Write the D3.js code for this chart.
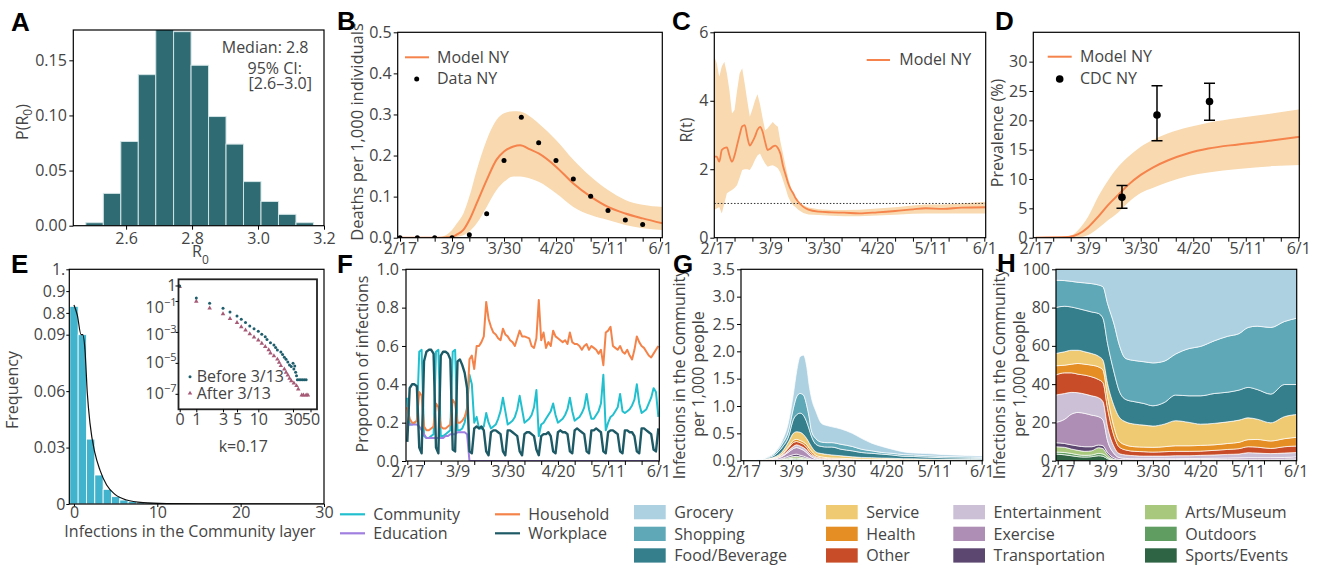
<!DOCTYPE html>
<html>
<head>
<meta charset="utf-8">
<script src="https://cdn.jsdelivr.net/npm/d3@7"></script>
<style>
  html, body { margin: 0; padding: 0; background: #fff; }
  svg { display: block; }
</style>
</head>
<body>
<svg id="fig" width="1321" height="571"></svg>
<script>
// ---------------- shared ----------------
const dateTickDays = [0, 21, 42, 63, 84, 105];
const dateTickLabels = ["2/17", "3/9", "3/30", "4/20", "5/11", "6/1"];

// ---------------- A: R0 posterior ----------------
const aBinEdges = [2.478, 2.531, 2.584, 2.637, 2.690, 2.744, 2.797, 2.850, 2.903, 2.956, 3.009, 3.062, 3.115, 3.168];
const aDensity = [0.0027, 0.0293, 0.0764, 0.137, 0.179, 0.176, 0.1455, 0.099, 0.074, 0.040, 0.022, 0.0103, 0.0027];
const aXTicks = [2.6, 2.8, 3.0, 3.2];
const aYTicks = [0, 0.05, 0.10, 0.15];
const aStats = ["Median: 2.8", "95% CI:", "[2.6\u20133.0]"];

// ---------------- B: deaths ----------------
const bDays  = [0, 10, 16, 19, 21, 23, 25.6, 28, 31, 35, 39, 42, 45.8, 48.5, 52.5, 56, 63, 70, 77, 84, 91, 98, 106];
const bModel = [0, 0, 0, 0.001, 0.002, 0.008, 0.019, 0.043, 0.084, 0.14, 0.19, 0.21, 0.222, 0.225, 0.215, 0.205, 0.173, 0.132, 0.1, 0.075, 0.059, 0.047, 0.035];
const bUpper = [0, 0, 0.002, 0.008, 0.019, 0.035, 0.059, 0.1, 0.165, 0.238, 0.287, 0.303, 0.308, 0.307, 0.295, 0.278, 0.238, 0.19, 0.149, 0.116, 0.092, 0.08, 0.075];
const bLower = [0, 0, 0, 0, 0, 0.002, 0.006, 0.015, 0.035, 0.075, 0.116, 0.136, 0.149, 0.149, 0.144, 0.136, 0.108, 0.075, 0.055, 0.043, 0.031, 0.023, 0.019];
const bDataDays = [0, 7, 14, 21, 28, 35, 42, 49, 56, 63, 70, 77, 84, 91, 98];
const bData = [0, 0, 0, 0, 0.007, 0.058, 0.188, 0.293, 0.231, 0.188, 0.143, 0.101, 0.066, 0.043, 0.032];
const bYTicks = [0, 0.1, 0.2, 0.3, 0.4, 0.5];

// ---------------- C: R(t) ----------------
const cDays  = [-1, 0, 1, 2, 3, 4, 5, 6, 7, 8, 9, 10, 11, 12, 13, 14, 15, 16, 17, 18, 19, 20, 21, 22, 23, 24, 25, 26, 27, 28, 29, 30, 31, 32, 34, 36, 40, 45, 50, 56, 63, 70, 77, 82, 89, 96, 106];
const cModel = [2.37, 2.37, 2.22, 2.56, 2.62, 2.64, 2.4, 2.22, 2.4, 2.7, 3.0, 3.25, 3.29, 2.95, 2.69, 2.8, 2.95, 3.15, 3.24, 3.1, 2.8, 2.56, 2.6, 2.66, 2.69, 2.62, 2.45, 2.1, 1.85, 1.6, 1.42, 1.3, 1.15, 1.05, 0.9, 0.82, 0.76, 0.74, 0.73, 0.71, 0.74, 0.78, 0.83, 0.86, 0.84, 0.88, 0.89];
const cUpper = [5.3, 5.1, 4.7, 5.0, 5.14, 4.8, 4.3, 3.63, 3.73, 4.3, 4.8, 4.95, 4.5, 4.0, 3.53, 3.75, 4.0, 4.19, 3.9, 3.5, 3.14, 3.2, 3.29, 3.38, 3.3, 3.24, 2.8, 2.46, 2.1, 1.75, 1.5, 1.3, 1.15, 1.05, 0.95, 0.88, 0.83, 0.81, 0.81, 0.82, 0.85, 0.89, 0.94, 0.97, 0.97, 1.0, 1.05];
const cLower = [0.81, 0.85, 0.9, 0.71, 1.0, 1.3, 1.35, 1.39, 1.45, 1.54, 1.75, 1.98, 2.0, 2.0, 1.98, 2.1, 2.27, 2.4, 2.46, 2.3, 2.17, 2.07, 2.1, 2.12, 2.08, 2.03, 1.9, 1.68, 1.45, 1.2, 1.05, 0.95, 0.89, 0.82, 0.72, 0.68, 0.66, 0.64, 0.63, 0.63, 0.65, 0.67, 0.7, 0.71, 0.71, 0.71, 0.71];
const cThreshold = 1;
const cYTicks = [0, 2, 4, 6];

// ---------------- D: prevalence ----------------
const dDays  = [0, 13, 17, 21, 25, 29, 33, 37, 42, 47, 53, 61, 69, 81, 95, 106];
const dModel = [0, 0.1, 0.6, 1.8, 3.6, 5.6, 7.3, 9.0, 10.7, 12.0, 13.2, 14.4, 15.2, 15.9, 16.6, 17.2];
const dUpper = [0, 0.2, 1.3, 3.6, 7.0, 9.8, 12.1, 13.8, 15.5, 16.7, 17.8, 18.8, 19.6, 20.4, 21.2, 21.9];
const dLower = [0, 0, 0.05, 0.45, 1.6, 3.0, 4.3, 6.0, 7.6, 8.5, 9.5, 10.5, 11.1, 11.7, 12.2, 12.4];
const cdcDays = [34.5, 48.5, 69.5];
const cdcValue = [6.9, 20.9, 23.2];
const cdcLow = [5.0, 16.5, 20.0];
const cdcHigh = [8.9, 25.9, 26.3];
const dYTicks = [0, 5, 10, 15, 20, 25, 30];

// ---------------- E: offspring distribution ----------------
const eCounts = [0, 1, 2, 3, 4, 5, 6, 7, 8, 9, 10, 11, 12];
const eFreq = [0.83, 0.09, 0.0345, 0.0154, 0.0078, 0.0039, 0.0021, 0.0013, 0.0009, 0.0006, 0.0004, 0.0003, 0.0002];
const eFitX = [0, 0.4, 0.85, 1.05, 1.32, 1.6, 1.92, 2.52, 3.12, 3.92, 4.92, 6.32, 8.32, 11.1, 15, 30];
const eFitY = [0.836, 0.79, 0.7, 0.09, 0.082, 0.059, 0.043, 0.027, 0.018, 0.0101, 0.0051, 0.0021, 0.0007, 0.0002, 0.00005, 0];
const eYTicks = [0, 0.03, 0.06, 0.09, 0.8, 0.9, 1];
const eYTickLabels = ["0", "0.03", "0.06", "0.09", "0.8", "0.9", "1."];
const eXTicks = [0, 10, 20, 30];
const insetBeforeCount = [0, 1, 2, 3, 4, 5, 6, 7, 8, 9, 10, 12, 14, 15, 17, 19, 20, 21, 23, 24, 25, 26, 27, 28, 29, 30, 31, 32, 33, 34, 35, 37, 39, 41, 43, 45];
const insetBeforeP = [0.93, 0.155, 0.071, 0.034, 0.0195, 0.0107, 0.0066, 0.0040, 0.00245, 0.00162, 0.0011, 7.1e-4, 4.8e-4, 3.2e-4, 2.0e-4, 1.45e-4, 1.0e-4, 6.9e-5, 5.1e-5, 3.5e-5, 2.3e-5, 1.7e-5, 1.15e-5, 7.4e-6, 5.8e-6, 9.5e-6, 4.0e-6, 6.3e-6, 2.5e-6, 1.45e-6, 8e-7, 8e-7, 8e-7, 8e-7, 8e-7, 8e-7];
const insetAfterCount = [0, 1, 2, 3, 4, 5, 6, 7, 8, 9, 10, 12, 14, 16, 17, 19, 21, 22, 23, 25, 26, 27, 28, 29, 31, 34, 36, 40, 42, 45, 47];
const insetAfterP = [0.83, 0.095, 0.034, 0.0145, 0.0072, 0.004, 0.0021, 0.0013, 7.4e-4, 4.6e-4, 2.9e-4, 1.8e-4, 1.1e-4, 6.9e-5, 4.2e-5, 2.8e-5, 1.7e-5, 1.05e-5, 6.5e-6, 3.9e-6, 2.4e-6, 1.6e-6, 1.0e-6, 6.9e-7, 4.9e-7, 3.3e-7, 2.0e-7, 8.3e-8, 8.3e-8, 8.3e-8, 8.3e-8];
const insetXTicks = [0, 1, 3, 5, 10, 30, 50];
const insetYTicks = [1, 1e-1, 1e-3, 1e-5, 1e-7];
const insetYExp = ["", "\u22121", "\u22123", "\u22125", "\u22127"];
const dispersionLabel = "k=0.17";

// ---------------- F: proportion of infections by layer (daily) ----------------
const fCommunity = [
  0.33, 0.19, 0.19, 0.20, 0.21, 0.57, 0.58,
  0.13, 0.12, 0.12, 0.13, 0.14, 0.57, 0.58,
  0.13, 0.13, 0.14, 0.15, 0.16, 0.57, 0.58,
  0.16, 0.16, 0.17, 0.20, 0.28, 0.45, 0.40,
  0.20, 0.23, 0.17, 0.17, 0.18, 0.25, 0.20,
  0.17, 0.18, 0.19, 0.22, 0.26, 0.33, 0.26,
  0.19, 0.20, 0.21, 0.23, 0.27, 0.34, 0.27,
  0.20, 0.21, 0.22, 0.24, 0.28, 0.37, 0.13,
  0.19, 0.20, 0.22, 0.24, 0.26, 0.30, 0.24,
  0.20, 0.21, 0.22, 0.24, 0.27, 0.33, 0.26,
  0.21, 0.22, 0.23, 0.25, 0.28, 0.35, 0.27,
  0.22, 0.22, 0.24, 0.26, 0.30, 0.45, 0.16,
  0.20, 0.23, 0.24, 0.26, 0.28, 0.35, 0.26,
  0.25, 0.26, 0.27, 0.29, 0.32, 0.40, 0.30,
  0.25, 0.26, 0.27, 0.30, 0.33, 0.38, 0.36,
  0.23];
const fEducation = [
  0.20, 0.19, 0.19, 0.19, 0.19, 0.18, 0.16,
  0.14, 0.12, 0.12, 0.12, 0.12, 0.12, 0.12,
  0.12, 0.12, 0.13, 0.13, 0.14, 0.14, 0.14,
  0.15, 0.15, 0.15, 0.15, 0.14, 0, 0,
  0, 0, 0, 0, 0, 0, 0,
  0, 0, 0, 0, 0, 0, 0,
  0, 0, 0, 0, 0, 0, 0,
  0, 0, 0, 0, 0, 0, 0,
  0, 0, 0, 0, 0, 0, 0,
  0, 0, 0, 0, 0, 0, 0,
  0, 0, 0, 0, 0, 0, 0,
  0, 0, 0, 0, 0, 0, 0,
  0, 0, 0, 0, 0, 0, 0,
  0, 0, 0, 0, 0, 0, 0,
  0, 0, 0, 0, 0, 0, 0,
  0];
const fHousehold = [
  0.28, 0.22, 0.20, 0.20, 0.21, 0.36, 0.34,
  0.18, 0.16, 0.16, 0.17, 0.18, 0.30, 0.28,
  0.18, 0.17, 0.17, 0.18, 0.19, 0.32, 0.30,
  0.20, 0.20, 0.21, 0.23, 0.27, 0.53, 0.55,
  0.48, 0.60, 0.60, 0.62, 0.65, 0.83, 0.74,
  0.70, 0.67, 0.66, 0.64, 0.63, 0.69, 0.66,
  0.65, 0.63, 0.62, 0.60, 0.64, 0.68, 0.65,
  0.65, 0.645, 0.64, 0.60, 0.59, 0.64, 0.84,
  0.63, 0.67, 0.59, 0.62, 0.60, 0.68, 0.65,
  0.64, 0.63, 0.62, 0.63, 0.61, 0.67, 0.62,
  0.61, 0.61, 0.60, 0.58, 0.60, 0.61, 0.58,
  0.60, 0.59, 0.58, 0.56, 0.58, 0.50, 0.67,
  0.68, 0.70, 0.60, 0.59, 0.58, 0.60, 0.57,
  0.56, 0.58, 0.55, 0.53, 0.58, 0.65, 0.62,
  0.60, 0.59, 0.57, 0.55, 0.54, 0.56, 0.58,
  0.60];
const fWorkplace = [
  0.10, 0.38, 0.40, 0.40, 0.39, 0.07, 0.04,
  0.52, 0.57, 0.58, 0.58, 0.56, 0.07, 0.04,
  0.55, 0.57, 0.57, 0.56, 0.53, 0.06, 0.05,
  0.52, 0.53, 0.50, 0.46, 0.38, 0.05, 0.04,
  0.17, 0.18, 0.17, 0.18, 0.16, 0.05, 0.03,
  0.15, 0.16, 0.16, 0.15, 0.14, 0.05, 0.03,
  0.16, 0.16, 0.15, 0.14, 0.13, 0.05, 0.03,
  0.14, 0.15, 0.15, 0.14, 0.13, 0.06, 0.03,
  0.13, 0.14, 0.14, 0.15, 0.13, 0.05, 0.04,
  0.15, 0.16, 0.15, 0.15, 0.14, 0.05, 0.04,
  0.16, 0.17, 0.16, 0.15, 0.14, 0.05, 0.04,
  0.16, 0.16, 0.17, 0.16, 0.15, 0.05, 0.04,
  0.15, 0.16, 0.16, 0.15, 0.14, 0.05, 0.04,
  0.16, 0.16, 0.15, 0.15, 0.13, 0.05, 0.04,
  0.17, 0.17, 0.16, 0.15, 0.14, 0.06, 0.05,
  0.17];
const fYTicks = [0, 0.2, 0.4, 0.6, 0.8, 1.0];
const layerNames = ["Community", "Education", "Household", "Workplace"];

// ---------------- G: community infections by venue (per 1,000) ----------------
const gDays = [0, 8, 10, 14, 17, 20, 22, 23.5, 25, 26.5, 28, 29, 30, 32, 34.5, 37, 39, 43, 48, 52, 56.5, 61, 65.5, 70.5, 75, 81, 88, 95, 100, 105.5];
const gGrocery       = [0, .002, .005, .02, .05, .16, .25, .46, .67, .73, .7, .58, .6, .5, .34, .31, .29, .28, .24, .2, .14, .11, .075, .05, .035, .04, .032, .028, .024, .025];
const gShopping      = [0, .003, .01, .03, .06, .11, .2, .33, .36, .37, .3, .22, .1, .1, .08, .08, .08, .09, .08, .06, .045, .03, .03, .03, .028, .025, .024, .024, .022, .02];
const gFood          = [0, .005, .015, .04, .08, .10, .25, .31, .35, .35, .3, .25, .19, .14, .13, .135, .145, .12, .11, .09, .08, .072, .06, .045, .042, .036, .03, .027, .024, .022];
const gService       = [0, .002, .004, .015, .04, .09, .13, .14, .15, .14, .11, .1, .08, .06, .06, .06, .055, .045, .035, .03, .028, .024, .023, .018, .017, .015, .013, .012, .011, .01];
const gHealth        = [0, .001, .003, .005, .01, .02, .04, .04, .04, .04, .05, .05, .045, .03, .02, .015, .015, .015, .01, .008, .007, .006, .006, .005, .005, .004, .004, .003, .003, .003];
const gOther         = [0, .002, .006, .01, .02, .05, .07, .06, .06, .06, .05, .04, .03, .015, .015, .015, .013, .01, .009, .008, .008, .007, .006, .005, .005, .004, .003, .003, .003, .003];
const gEntertainment = [0, .002, .006, .007, .015, .03, .04, .05, .05, .05, .05, .04, .035, .025, .02, .015, .014, .013, .01, .009, .008, .007, .007, .005, .005, .004, .003, .002, .002, .001];
const gExercise      = [0, .002, .007, .015, .035, .075, .11, .12, .12, .105, .08, .055, .04, .018, .009, .006, .005, .004, .004, .003, .003, .003, .002, .002, .002, .0015, .001, .001, .001, .001];
const gTransport     = [0, .0005, .001, .006, .012, .025, .035, .04, .03, .025, .02, .015, .01, .004, .002, .001, .001, .001, .001, .001, .0008, .0007, .0006, .0006, .0005, .0005, .0004, .0004, .0004, .0004];
const gArts          = [0, .0005, .0015, .005, .012, .025, .03, .032, .028, .025, .016, .012, .008, .003, .002, .0015, .001, .001, .0005, .0005, .0005, .0004, .0003, .0003, .0003, .0003, .0002, .0002, .0002, .0002];
const gOutdoors      = [0, .0002, .0005, .003, .007, .015, .02, .021, .018, .015, .01, .008, .005, .002, .001, .0005, .0005, .0005, .0003, .0003, .0003, .0002, .0002, .0002, .0001, .0001, .0001, .0001, .0001, .0001];
const gSports        = [0, .0005, .0015, .004, .009, .02, .025, .027, .024, .02, .014, .01, .007, .003, .001, .001, .0005, .0005, .0002, .0002, .0002, .0002, .0001, .0001, .0001, .0001, .0001, .0001, .0001, .0001];
const gYTicks = [0, 0.5, 1.0, 1.5, 2.0, 2.5, 3.0, 3.5];

// ---------------- H: venue share ----------------
const hDays = [-1, 3, 6, 9, 12, 15, 18, 20, 22, 25, 27, 30, 34, 38, 42, 47, 52, 58, 63, 69, 75, 80, 84, 88, 94, 100, 106];
const hGrocery       = [5.7, 5.9, 6.3, 6.8, 7.1, 7.5, 8.2, 9.2, 17.9, 29.2, 38.8, 46.6, 47.7, 48.3, 48.9, 48, 44.3, 41.4, 40.3, 37.4, 35, 33.6, 30.4, 29.7, 30.4, 27.3, 25.4];
const hShopping      = [14.3, 13.4, 13.4, 13.7, 14.3, 14.8, 14.9, 16.5, 20.9, 25.2, 24.3, 21.4, 21.5, 21.8, 22.4, 21.6, 21.4, 24.7, 25.8, 27.5, 29.2, 29.5, 31.3, 33.1, 34.8, 32.9, 34.8];
const hFood          = [24, 23.8, 22.6, 21.8, 21.7, 21.7, 22.3, 21.8, 20.9, 17.4, 13.9, 11.7, 11.7, 11.3, 10.6, 11.3, 13.4, 13.9, 14.8, 15.6, 15.5, 15.7, 15.9, 15.5, 15, 16.8, 15.6];
const hService       = [6.4, 7, 7.3, 6.9, 6.5, 6.1, 5.6, 5.2, 6.9, 11.3, 12.6, 12.1, 11.8, 11.5, 11.1, 11.8, 13.1, 12.2, 11.1, 11.2, 11.3, 11.6, 11.4, 10.6, 9.5, 11.5, 11.9];
const hHealth        = [4.9, 4, 4.5, 5.6, 5.7, 6.1, 6.6, 6.6, 6.1, 4.4, 3.1, 2.6, 2.4, 2.4, 2.5, 2.6, 2.9, 2.9, 3, 2.9, 3.1, 3.3, 3.7, 4, 3.9, 4.2, 4.6];
const hOther         = [10.4, 10.8, 10.2, 9.7, 9.9, 9.9, 9.5, 9.9, 9.6, 5.5, 3.5, 2.6, 2.3, 2.3, 2.1, 2.3, 2.3, 2.3, 2.2, 2.4, 2.6, 2.8, 3.1, 3.1, 2.7, 3.3, 3.4];
const hEntertainment = [14.3, 13.5, 11.4, 10.3, 10.1, 10.1, 9.9, 9.6, 7.3, 3.5, 2.1, 1.8, 1.6, 1.4, 1.4, 1.4, 1.6, 1.5, 1.6, 1.7, 1.9, 2, 2.6, 2.4, 2.1, 2.3, 2.2];
const hExercise      = [10.6, 12.6, 16, 17.5, 17.4, 16.5, 14.8, 13.4, 6.2, 2.1, 1, 0.7, 0.5, 0.5, 0.5, 0.5, 0.4, 0.5, 0.6, 0.6, 0.7, 0.7, 0.8, 0.8, 0.8, 0.8, 1.1];
const hTransport     = [2.1, 2, 2.2, 2.3, 2.4, 2.1, 1.4, 1.5, 1.1, 0.7, 0.35, 0.2, 0.2, 0.2, 0.2, 0.2, 0.3, 0.3, 0.3, 0.35, 0.35, 0.4, 0.4, 0.4, 0.4, 0.45, 0.5];
const hArts          = [2.8, 2.7, 2.3, 2.3, 2.1, 2.2, 3, 2.8, 1.4, 0.35, 0.15, 0.15, 0.15, 0.15, 0.15, 0.15, 0.15, 0.15, 0.15, 0.2, 0.2, 0.2, 0.2, 0.2, 0.2, 0.25, 0.3];
const hOutdoors      = [1, 1.2, 1.2, 1, 0.9, 0.9, 1.2, 1.2, 0.7, 0.15, 0.15, 0.1, 0.1, 0.1, 0.1, 0.1, 0.1, 0.1, 0.1, 0.1, 0.1, 0.15, 0.15, 0.15, 0.15, 0.15, 0.15];
const hSports        = [3.5, 3.1, 2.6, 2.1, 1.9, 2.1, 2.6, 2.3, 1, 0.2, 0.05, 0.05, 0.05, 0.05, 0.05, 0.05, 0.05, 0.05, 0.05, 0.05, 0.05, 0.05, 0.05, 0.05, 0.05, 0.05, 0.05];
const hYTicks = [0, 20, 40, 60, 80, 100];

// venue categories, bottom of the stack first
const venueKeys = ["Sports/Events", "Outdoors", "Arts/Museum", "Transportation", "Exercise", "Entertainment", "Other", "Health", "Service", "Food/Beverage", "Shopping", "Grocery"];
const venueColors = ["#2e6343", "#5f9d60", "#a8c97d", "#5b4770", "#af8eb5", "#cbc0d6", "#c74c27", "#e58e24", "#f0ca72", "#357f8d", "#5fa8b8", "#aed1e2"];
const gSeries = [gSports, gOutdoors, gArts, gTransport, gExercise, gEntertainment, gOther, gHealth, gService, gFood, gShopping, gGrocery];
const hSeries = [hSports, hOutdoors, hArts, hTransport, hExercise, hEntertainment, hOther, hHealth, hService, hFood, hShopping, hGrocery];
const venueLegendColumns = [["Grocery", "Shopping", "Food/Beverage"], ["Service", "Health", "Other"], ["Entertainment", "Exercise", "Transportation"], ["Arts/Museum", "Outdoors", "Sports/Events"]];

// ---------------- drawing helpers ----------------
const FONT = "'Open Sans', 'Noto Sans', sans-serif";
const INK = "#444";
const ORANGE = "#f5834b";
const BAND = "#f8d9b0";
const layerColors = ["#22c0cf", "#a07fe0", "#f4834a", "#1d5a66"];

const svg = d3.select("#fig");
const defs = svg.append("defs");
let clipCount = 0;

function clip(b) {
  const id = "clip" + (clipCount++);
  defs.append("clipPath").attr("id", id).append("rect")
    .attr("x", b.x0).attr("y", b.y0).attr("width", b.x1 - b.x0).attr("height", b.y1 - b.y0);
  return `url(#${id})`;
}
function frame(b, w = 1.2, col = "#000") {
  svg.append("rect").attr("x", b.x0).attr("y", b.y0).attr("width", b.x1 - b.x0).attr("height", b.y1 - b.y0)
    .attr("fill", "none").attr("stroke", col).attr("stroke-width", w);
}
function styleAxis(g) {
  g.attr("font-family", FONT).attr("font-size", 16);
  g.select(".domain").remove();
  g.selectAll(".tick line").attr("stroke", "#000").attr("stroke-width", 1);
  g.selectAll(".tick text").attr("fill", INK);
}
function leftAxis(b, y, ticks, fmt, size = 4, pad = 2.5) {
  const g = svg.append("g").attr("transform", `translate(${b.x0},0)`)
    .call(d3.axisLeft(y).tickValues(ticks).tickFormat(fmt).tickSize(size).tickPadding(pad));
  styleAxis(g);
  return g;
}
function bottomAxis(b, x, ticks, fmt, size = 4, pad = 1) {
  const g = svg.append("g").attr("transform", `translate(0,${b.y1})`)
    .call(d3.axisBottom(x).tickValues(ticks).tickFormat(fmt).tickSize(size).tickPadding(pad));
  styleAxis(g);
  return g;
}
function dateAxis(b, x, pad) {
  const weeks = d3.range(0, 106, 7);
  return bottomAxis(b, x, weeks, d => {
    const i = dateTickDays.indexOf(d);
    return i < 0 ? "" : dateTickLabels[i];
  }, 4, pad);
}
function vLabel(x, y, text, size = 16) {
  return svg.append("text").attr("transform", `translate(${x},${y}) rotate(-90)`)
    .attr("text-anchor", "middle").attr("font-family", FONT).attr("font-size", size)
    .attr("fill", INK).text(text);
}
function label(x, y, text, anchor = "start", size = 16) {
  return svg.append("text").attr("x", x).attr("y", y).attr("text-anchor", anchor)
    .attr("font-family", FONT).attr("font-size", size).attr("fill", INK).text(text);
}
function letter(t, x, y) {
  svg.append("text").attr("x", x).attr("y", y).text(t)
    .attr("font-family", "'Liberation Sans', Arial, sans-serif").attr("font-weight", "bold")
    .attr("font-size", 26).attr("fill", "#000");
}
const fmt1 = d3.format(".1f");

// ================= A =================
{
  const b = { x0: 73.3, y0: 30, x1: 324, y1: 225.7 };
  const x = d3.scaleLinear().domain([2.44, 3.2]).range([b.x0, b.x1]);
  const y = d3.scaleLinear().domain([0, 0.1775]).range([b.y1, b.y0]);
  svg.append("g").attr("clip-path", clip(b)).selectAll("rect").data(aDensity).join("rect")
    .attr("x", (d, i) => x(aBinEdges[i]))
    .attr("width", (d, i) => x(aBinEdges[i + 1]) - x(aBinEdges[i]))
    .attr("y", d => y(d)).attr("height", d => y(0) - y(d))
    .attr("fill", "#2e6b73").attr("stroke", "#d3e4e5").attr("stroke-width", 1);
  frame(b);
  leftAxis(b, y, aYTicks, d3.format(".2f"), 4, 2.5);
  bottomAxis(b, x, aXTicks, fmt1, 4, 3);
  label(308.5, 53, aStats[0], "end");
  label(302, 73.5, aStats[1], "end");
  label(312, 88.5, aStats[2], "end");
  const yl = svg.append("text").attr("transform", "translate(28,122) rotate(-90)")
    .attr("text-anchor", "middle").attr("font-family", FONT).attr("font-size", 16).attr("fill", INK);
  yl.append("tspan").text("P(R");
  yl.append("tspan").text("0").attr("font-size", 12).attr("dy", 4);
  yl.append("tspan").text(")").attr("dy", -4);
  const xl = svg.append("text").attr("x", 192).attr("y", 257)
    .attr("font-family", FONT).attr("font-size", 16).attr("fill", INK);
  xl.append("tspan").text("R");
  xl.append("tspan").text("0").attr("font-size", 12).attr("dy", 6.5);
  letter("A", 11, 31);
}

// ================= B =================
{
  const b = { x0: 397.7, y0: 32.3, x1: 662.3, y1: 237.7 };
  const x = d3.scaleLinear().domain([-0.93, 105.93]).range([b.x0, b.x1]);
  const y = d3.scaleLinear().domain([0, 0.5]).range([b.y1, b.y0]);
  const rows = bDays.map((d, i) => ({ day: d, m: bModel[i], lo: bLower[i], hi: bUpper[i] }));
  const g = svg.append("g").attr("clip-path", clip(b));
  g.append("path").datum(rows).attr("fill", BAND)
    .attr("d", d3.area().x(d => x(d.day)).y0(d => y(d.lo)).y1(d => y(d.hi)).curve(d3.curveMonotoneX));
  g.append("path").datum(rows).attr("fill", "none").attr("stroke", ORANGE).attr("stroke-width", 2)
    .attr("d", d3.line().x(d => x(d.day)).y(d => y(d.m)).curve(d3.curveMonotoneX));
  g.selectAll("circle").data(bData).join("circle")
    .attr("cx", (d, i) => x(bDataDays[i])).attr("cy", d => y(d)).attr("r", 2.5).attr("fill", "#000");
  frame(b);
  leftAxis(b, y, bYTicks, fmt1, 4, 2);
  dateAxis(b, x, 1);
  svg.append("line").attr("x1", 405).attr("x2", 429).attr("y1", 57.3).attr("y2", 57.3).attr("stroke", ORANGE).attr("stroke-width", 2);
  label(437, 62.7, "Model NY");
  svg.append("circle").attr("cx", 416.7).attr("cy", 79).attr("r", 2.5).attr("fill", "#000");
  label(437, 83.5, "Data NY");
  vLabel(363, 132, "Deaths per 1,000 individuals", 16.5);
  letter("B", 337, 29.5);
}

// ================= C =================
{
  const b = { x0: 714.3, y0: 32.3, x1: 985.7, y1: 237.7 };
  const x = d3.scaleLinear().domain([-0.94, 105.55]).range([b.x0, b.x1]);
  const y = d3.scaleLinear().domain([0, 6]).range([b.y1, b.y0]);
  const rows = cDays.map((d, i) => ({ day: d, m: cModel[i], lo: cLower[i], hi: cUpper[i] }));
  const g = svg.append("g").attr("clip-path", clip(b));
  g.append("path").datum(rows).attr("fill", BAND)
    .attr("d", d3.area().x(d => x(d.day)).y0(d => y(d.lo)).y1(d => y(d.hi)));
  g.append("line").attr("x1", b.x0).attr("x2", b.x1).attr("y1", y(cThreshold)).attr("y2", y(cThreshold))
    .attr("stroke", "#333").attr("stroke-width", 1).attr("stroke-dasharray", "1.5,1.8");
  g.append("path").datum(rows).attr("fill", "none").attr("stroke", ORANGE).attr("stroke-width", 1.8)
    .attr("d", d3.line().x(d => x(d.day)).y(d => y(d.m)).curve(d3.curveMonotoneX));
  frame(b);
  leftAxis(b, y, cYTicks, d3.format("d"), 4, 2);
  dateAxis(b, x, 1);
  svg.append("line").attr("x1", 866.7).attr("x2", 890).attr("y1", 60).attr("y2", 60).attr("stroke", ORANGE).attr("stroke-width", 2);
  label(899.3, 65, "Model NY");
  vLabel(692, 130, "R(t)");
  letter("C", 672, 30);
}

// ================= D =================
{
  const b = { x0: 1033.3, y0: 32.3, x1: 1299.3, y1: 237.7 };
  const x = d3.scaleLinear().domain([-0.96, 105.4]).range([b.x0, b.x1]);
  const y = d3.scaleLinear().domain([0, 35]).range([b.y1, b.y0]);
  const rows = dDays.map((d, i) => ({ day: d, m: dModel[i], lo: dLower[i], hi: dUpper[i] }));
  const g = svg.append("g").attr("clip-path", clip(b));
  g.append("path").datum(rows).attr("fill", BAND)
    .attr("d", d3.area().x(d => x(d.day)).y0(d => y(d.lo)).y1(d => y(d.hi)).curve(d3.curveMonotoneX));
  g.append("path").datum(rows).attr("fill", "none").attr("stroke", ORANGE).attr("stroke-width", 2)
    .attr("d", d3.line().x(d => x(d.day)).y(d => y(d.m)).curve(d3.curveMonotoneX));
  cdcDays.forEach((d, i) => {
    const cx = x(d);
    g.append("line").attr("x1", cx).attr("x2", cx).attr("y1", y(cdcLow[i])).attr("y2", y(cdcHigh[i])).attr("stroke", "#000").attr("stroke-width", 1.5);
    [cdcLow[i], cdcHigh[i]].forEach(v => g.append("line").attr("x1", cx - 5.5).attr("x2", cx + 5.5).attr("y1", y(v)).attr("y2", y(v)).attr("stroke", "#000").attr("stroke-width", 1.5));
    g.append("circle").attr("cx", cx).attr("cy", y(cdcValue[i])).attr("r", 3.8).attr("fill", "#000");
  });
  frame(b);
  leftAxis(b, y, dYTicks, d3.format("d"), 4, 2);
  dateAxis(b, x, 1);
  svg.append("line").attr("x1", 1047.7).attr("x2", 1071.7).attr("y1", 56.7).attr("y2", 56.7).attr("stroke", ORANGE).attr("stroke-width", 2);
  label(1080, 62.3, "Model NY");
  svg.append("circle").attr("cx", 1059.7).attr("cy", 79).attr("r", 3.8).attr("fill", "#000");
  label(1080, 83.5, "CDC NY");
  vLabel(1003, 133, "Prevalence (%)");
  letter("D", 995, 30);
}

// ================= E =================
{
  const b = { x0: 69.3, y0: 269.3, x1: 324, y1: 504 };
  const x = d3.scaleLinear().domain([-0.56, 30]).range([b.x0, b.x1]);
  // broken axis: 0-0.09 below the break, 0.7-1 above it
  const y = d3.scaleLinear().domain([0, 0.09, 0.7, 1]).range([b.y1, 334.7, 334.7, b.y0]);
  const g = svg.append("g").attr("clip-path", clip(b));
  g.selectAll("rect").data(eFreq).join("rect")
    .attr("x", (d, i) => x(eCounts[i] - 0.5)).attr("width", (d, i) => x(eCounts[i] + 0.5) - x(eCounts[i] - 0.5))
    .attr("y", d => y(d)).attr("height", d => y(0) - y(d))
    .attr("fill", "#41b3cc").attr("stroke", "#fff").attr("stroke-width", 0.8);
  g.append("path").datum(eFitX.map((v, i) => [v, eFitY[i]])).attr("fill", "none").attr("stroke", "#111").attr("stroke-width", 1.2)
    .attr("d", d3.line().x(d => x(d[0])).y(d => y(d[1])).curve(d3.curveMonotoneX));
  frame(b);
  leftAxis(b, y, eYTicks, (d, i) => eYTickLabels[i], 3, 1);
  bottomAxis(b, x, eXTicks, d3.format("d"), 3, 0);
  vLabel(17.5, 390, "Frequency");
  label(190, 536.5, "Infections in the Community layer", "middle");
  letter("E", 11, 273.3);

  // inset: distribution on log axes before / after 3/13
  const ib = { x0: 178.5, y0: 279.3, x1: 317, y1: 409.3 };
  svg.append("rect").attr("x", ib.x0).attr("y", ib.y0).attr("width", ib.x1 - ib.x0).attr("height", ib.y1 - ib.y0).attr("fill", "#fff");
  const ix = d3.scaleLinear().domain(insetXTicks).range([179.7, 196.3, 223, 237, 258.3, 293, 310.5]);
  const iy = d3.scaleLog().domain([1e-8, Math.pow(10, 0.4)]).range([ib.y1, ib.y0]);
  const ig = svg.append("g").attr("clip-path", clip(ib));
  ig.selectAll("path.after").data(insetAfterP).join("path").attr("class", "after")
    .attr("transform", (d, i) => `translate(${ix(insetAfterCount[i])},${iy(d)})`)
    .attr("d", d3.symbol(d3.symbolTriangle, 9)).attr("fill", "#a65a76");
  ig.selectAll("circle.before").data(insetBeforeP).join("circle").attr("class", "before")
    .attr("cx", (d, i) => ix(insetBeforeCount[i])).attr("cy", d => iy(d)).attr("r", 1.5).attr("fill", "#1f5e6c");
  frame(ib, 1.8, "#222");
  const gy = svg.append("g").attr("transform", `translate(${ib.x0},0)`)
    .call(d3.axisLeft(iy).tickValues(insetYTicks).tickFormat("").tickSize(3));
  styleAxis(gy);
  // small downward nudges keep the stacked exponent labels apart
  const labelNudge = [0, 7, 2.5, 0, 0];
  insetYTicks.forEach((v, i) => {
    const t = svg.append("text").attr("x", 176.5).attr("y", iy(v) + 5.5 + labelNudge[i]).attr("text-anchor", "end")
      .attr("font-family", FONT).attr("font-size", 16).attr("fill", INK);
    if (i === 0) { t.text("1"); }
    else {
      t.append("tspan").text("10");
      t.append("tspan").text(insetYExp[i]).attr("font-size", 11).attr("dy", -7);
    }
  });
  const gx = svg.append("g").attr("transform", `translate(0,${ib.y1})`)
    .call(d3.axisBottom(ix).tickValues(insetXTicks).tickFormat(d3.format("d")).tickSize(3).tickPadding(1));
  styleAxis(gx);
  svg.append("circle").attr("cx", 190).attr("cy", 376.7).attr("r", 1.5).attr("fill", "#1f5e6c");
  label(196.7, 381.5, "Before 3/13");
  svg.append("path").attr("transform", "translate(190,393.3)").attr("d", d3.symbol(d3.symbolTriangle, 9)).attr("fill", "#a65a76");
  label(196.7, 398.5, "After 3/13");
  label(243.3, 451.7, dispersionLabel, "middle");
}

// ================= F =================
{
  const b = { x0: 406, y0: 269.3, x1: 659.3, y1: 461 };
  const x = d3.scaleLinear().domain([-0.54, 105.4]).range([b.x0, b.x1]);
  const y = d3.scaleLinear().domain([0, 1]).range([b.y1, b.y0]);
  const g = svg.append("g").attr("clip-path", clip(b));
  const series = [fCommunity, fEducation, fHousehold, fWorkplace];
  series.forEach((vals, k) => {
    g.append("path").datum(vals).attr("fill", "none").attr("stroke", layerColors[k])
      .attr("stroke-width", k === 3 ? 2.4 : 2).attr("stroke-linejoin", "round")
      .attr("d", d3.line().x((d, i) => x(i)).y(d => y(d)));
  });
  frame(b);
  leftAxis(b, y, fYTicks, fmt1, 4, 3);
  dateAxis(b, x, 0.6);
  vLabel(368, 364, "Proportion of infections");
  letter("F", 337, 273);
}

// ================= stacked venue panels =================
function stackPanel(b, domainX, days, seriesList, yMax, yTicks, yFmt, curve) {
  const x = d3.scaleLinear().domain(domainX).range([b.x0, b.x1]);
  const y = d3.scaleLinear().domain([0, yMax]).range([b.y1, b.y0]);
  const rows = days.map((d, i) => {
    const r = { day: d };
    venueKeys.forEach((k, j) => { r[k] = seriesList[j][i]; });
    return r;
  });
  const stacked = d3.stack().keys(venueKeys)(rows);
  const g = svg.append("g").attr("clip-path", clip(b));
  g.selectAll("path").data(stacked).join("path")
    .attr("fill", (d, i) => venueColors[i]).attr("stroke", "#fff").attr("stroke-width", 0.7)
    .attr("d", d3.area().x(d => x(d.data.day)).y0(d => y(d[0])).y1(d => y(d[1])).curve(curve));
  frame(b);
  leftAxis(b, y, yTicks, yFmt, 4, 2);
  dateAxis(b, x, 1.2);
}

// ================= G =================
{
  const b = { x0: 741, y0: 269.3, x1: 982.7, y1: 460.7 };
  stackPanel(b, [-1.01, 105.44], gDays, gSeries, 3.5, gYTicks, fmt1, d3.curveMonotoneX);
  const t = svg.append("text").attr("transform", "translate(685,374) rotate(-90)").attr("text-anchor", "middle")
    .attr("font-family", FONT).attr("font-size", 16).attr("fill", INK);
  t.append("tspan").attr("x", 0).attr("dy", 0).text("Infections in the Community");
  t.append("tspan").attr("x", 0).attr("dy", 19).text("per 1,000 people");
  letter("G", 673, 273);
}

// ================= H =================
{
  const b = { x0: 1056, y0: 269.3, x1: 1296.7, y1: 460.7 };
  stackPanel(b, [-0.75, 105.44], hDays, hSeries, 100, hYTicks, d3.format("d"), d3.curveMonotoneX);
  const t = svg.append("text").attr("transform", "translate(1005,374) rotate(-90)").attr("text-anchor", "middle")
    .attr("font-family", FONT).attr("font-size", 16).attr("fill", INK);
  t.append("tspan").attr("x", 0).attr("dy", 0).text("Infections in the Community");
  t.append("tspan").attr("x", 0).attr("dy", 20).text("per 1,000 people");
  letter("H", 997, 272);
}

// ================= legends =================
{
  const lineLegend = [
    { name: layerNames[0], color: layerColors[0], x: 340, y: 514.3 },
    { name: layerNames[1], color: layerColors[1], x: 340, y: 533.3 },
    { name: layerNames[2], color: layerColors[2], x: 495, y: 514.3 },
    { name: layerNames[3], color: layerColors[3], x: 495, y: 533.3 },
  ];
  lineLegend.forEach(d => {
    svg.append("line").attr("x1", d.x).attr("x2", d.x + 25).attr("y1", d.y).attr("y2", d.y)
      .attr("stroke", d.color).attr("stroke-width", 2.2);
    label(d.x + 33.3, d.y + 5.5, d.name);
  });
  const colX = [634, 826, 953.3, 1145];
  const rowY = [505, 526.7, 548.3];
  venueLegendColumns.forEach((col, ci) => {
    col.forEach((name, ri) => {
      const k = venueKeys.indexOf(name);
      svg.append("rect").attr("x", colX[ci]).attr("y", rowY[ri]).attr("width", 31.7).attr("height", 14.3)
        .attr("fill", venueColors[k]);
      label(colX[ci] + 40.3, rowY[ri] + 13, name);
    });
  });
}
</script>
</body>
</html>
